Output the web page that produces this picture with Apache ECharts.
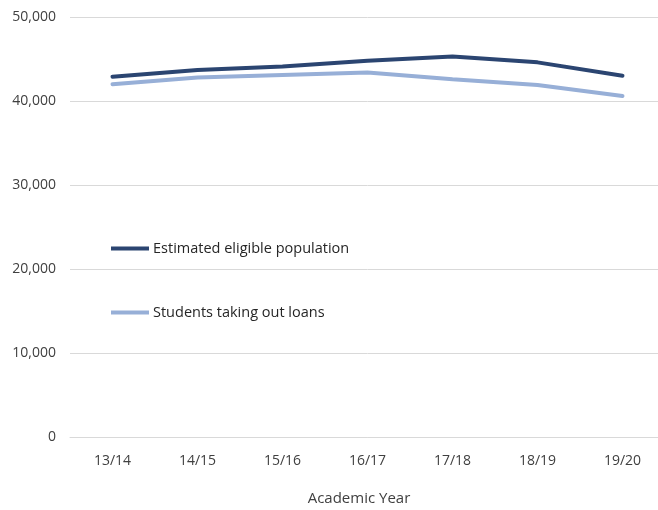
<!DOCTYPE html>
<html>
<head>
<meta charset="utf-8">
<script src="https://cdn.jsdelivr.net/npm/echarts@6/dist/echarts.min.js"></script>
<style>
  html, body { margin: 0; padding: 0; background: #fff; overflow: hidden; }
  #chart { width: 665px; height: 510px; }
</style>
</head>
<body>
<div id="chart"></div>
<script>
// academic years on the x axis
const years = ['13/14', '14/15', '15/16', '16/17', '17/18', '18/19', '19/20'];
const eligible = [42900, 43700, 44100, 44800, 45300, 44600, 43000];
const loans = [42000, 42800, 43100, 43400, 42600, 41900, 40600];
const yTicks = [0, 10000, 20000, 30000, 40000, 50000];

const font = '"Open Sans", "Noto Sans", sans-serif';
const chart = echarts.init(document.getElementById('chart'));

chart.setOption({
    animation: false,
    textStyle: { fontFamily: font },
    title: {
        text: 'Academic Year',
        left: 354,
        top: 486,
        textAlign: 'center',
        textStyle: { fontFamily: font, fontSize: 15, fontWeight: 'normal', color: '#404040' }
    },
    grid: {
        left: 70,
        top: 17,
        right: 0,
        height: 420
    },
    legend: {
        orient: 'vertical',
        left: 106,
        top: 236,
        itemGap: 49,
        itemWidth: 38,
        itemHeight: 4,
        icon: 'rect',
        textStyle: { fontFamily: font, fontSize: 14.5, color: '#262626', padding: [0, 0, 0, -1] },
        data: ['Estimated eligible population', 'Students taking out loans']
    },
    xAxis: {
        type: 'category',
        data: years,
        axisLine: { lineStyle: { color: '#d9d9d9', width: 1 } },
        axisTick: { show: false },
        axisLabel: { color: '#404040', fontSize: 14, margin: 17, fontFamily: font }
    },
    yAxis: {
        type: 'value',
        min: 0,
        max: yTicks[yTicks.length - 1],
        interval: 10000,
        axisLine: { show: false },
        axisTick: { show: false },
        splitLine: { lineStyle: { color: '#d9d9d9', width: 1 } },
        axisLabel: {
            color: '#404040',
            fontSize: 14,
            margin: 14,
            fontFamily: font,
            formatter: function (v) { return v.toLocaleString('en-US'); }
        }
    },
    series: [{
        name: 'Estimated eligible population',
        type: 'line',
        data: eligible,
        symbol: 'none',
        lineStyle: { color: '#2B4571', width: 4, cap: 'round' },
        itemStyle: { color: '#2B4571' }
    }, {
        name: 'Students taking out loans',
        type: 'line',
        data: loans,
        symbol: 'none',
        lineStyle: { color: '#97AFD7', width: 4, cap: 'round' },
        itemStyle: { color: '#97AFD7' }
    }]
});
</script>
</body>
</html>
